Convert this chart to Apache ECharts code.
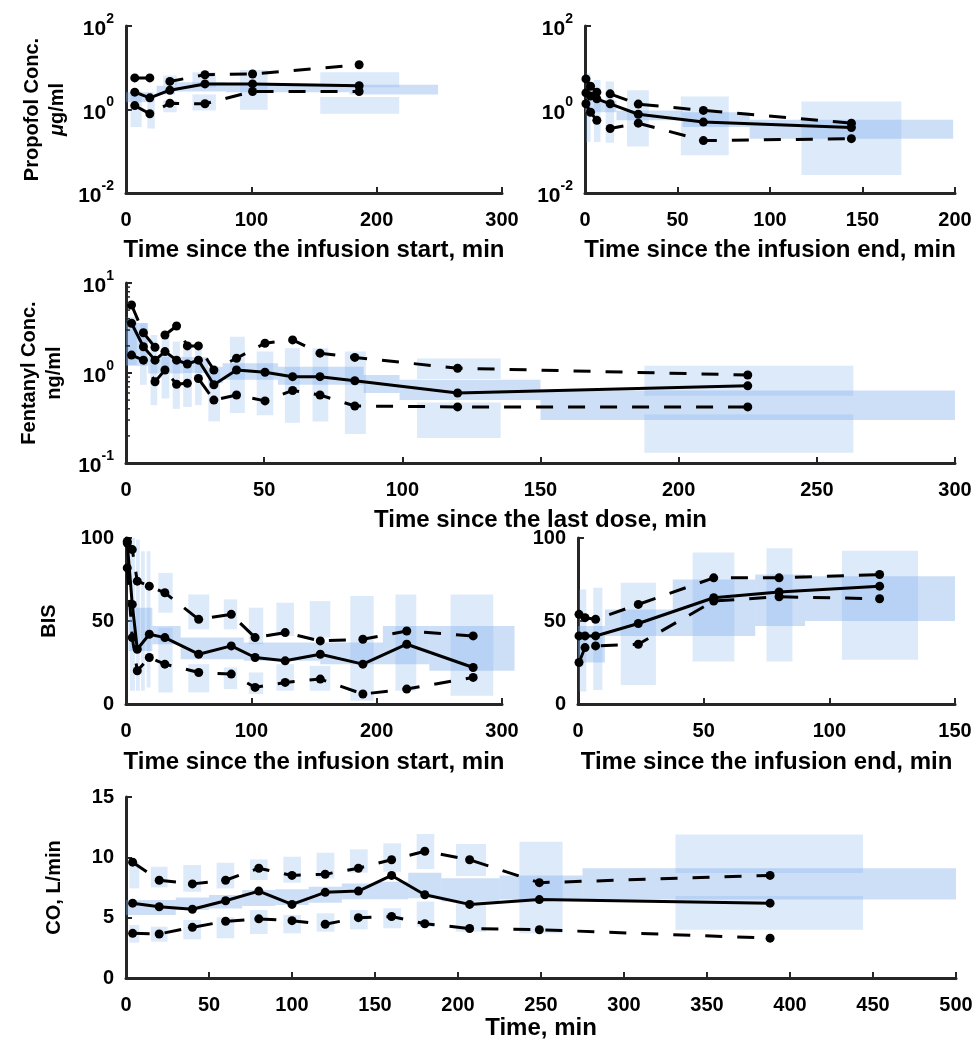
<!DOCTYPE html>
<html>
<head>
<meta charset="utf-8">
<script src="https://cdn.jsdelivr.net/npm/echarts@6/dist/echarts.min.js"></script>
<style>
html, body { margin: 0; background: #fff; }
#chart { width: 978px; height: 1048px; }
</style>
</head>
<body>
<div id="chart"></div>
<script>
// 观测值：中位数 / 5% / 95%，以及预测区间矩形 [x0, x1, y0, y1]

// 丙泊酚 - 输注开始
var p1Time = [7, 19, 35, 63, 101, 186];
var p1Upper = [5.7, 5.7, 4.7, 6.8, 7.1, 11.8];
var p1Median = [2.6, 1.9, 2.9, 4.1, 4.1, 3.7];
var p1Lower = [1.24, 0.79, 1.41, 1.37, 2.7, 2.7];
var p1PI = [[3.7, 12.5, 0.38, 2.8], [17, 23, 0.35, 2.2], [29.7, 40.4, 3.7, 6.5], [29.7, 40.4, 0.86, 1.64],
  [53, 71.7, 3.4, 7.8], [53, 71.7, 0.95, 2.3], [91, 113, 0.98, 8.8], [155, 218, 3.4, 7.8], [155, 218, 0.79, 2.0]];
var p1Band = [[0, 21.8, 1.5, 2.6], [24.4, 39, 2.3, 3.7], [39, 80, 2.7, 4.5], [80, 178.5, 2.6, 4.1], [178.5, 249, 2.3, 3.9]];

// 丙泊酚 - 输注结束
var p2Time = [0.5, 3, 6.4, 13.6, 28.8, 64, 144];
var p2Upper = [5.4, 3.6, 2.6, 2.37, 1.35, 0.95, 0.47];
var p2Median = [2.5, 2.1, 1.8, 1.37, 0.77, 0.5, 0.37];
var p2Lower = [1.37, 0.86, 0.55, 0.35, 0.47, 0.18, 0.2];
var p2PI = [[0.5, 3, 0.167, 7.3], [4.8, 8.4, 0.167, 5.1], [11.2, 15.7, 0.16, 4.7], [22.7, 34.5, 0.13, 2.9],
  [51.8, 77.7, 0.08, 2.04], [117, 171, 0.027, 1.55]];
var p2Band = [[0, 17, 0.86, 1.64], [17, 52.7, 0.55, 0.95], [52.7, 89, 0.38, 0.86], [89, 199, 0.2, 0.57]];

// 芬太尼
var p3Time = [2, 6.3, 10.5, 14.1, 18.3, 22.2, 26.2, 31.8, 40, 50.3, 60.3, 70.2, 82.8, 120, 225];
var p3Upper = [5.7, 2.8, 1.93, 2.64, 3.33, 2.0, 2.0, 1.08, 1.46, 2.14, 2.33, 1.66, 1.49, 1.13, 0.95];
var p3Median = [3.57, 1.96, 1.39, 1.73, 1.39, 1.26, 1.39, 0.74, 1.08, 1.02, 0.91, 0.91, 0.82, 0.6, 0.72];
var p3Lower = [1.58, 1.39, 0.8, 1.08, 0.75, 0.77, 0.87, 0.5, 0.57, 0.49, 0.64, 0.57, 0.43, 0.42, 0.42];
var p3PI = [[0.2, 3.9, 1.23, 4.2], [5.1, 7.5, 0.74, 3.57], [8.9, 11.3, 0.44, 2.64], [12.9, 15.7, 0.52, 2.53],
  [16.9, 19.5, 0.4, 2.23], [20.7, 23.8, 0.42, 2.23], [25, 27.4, 0.44, 2.14], [29.8, 34, 0.29, 1.08],
  [37.6, 43, 0.36, 2.53], [47.3, 53.3, 0.34, 1.73], [57.5, 62.9, 0.28, 1.88], [67.5, 73.2, 0.29, 1.88],
  [79.2, 86.8, 0.21, 1.73], [105.3, 135.6, 0.86, 1.45], [105.3, 135.6, 0.19, 0.47],
  [187.6, 263.2, 0.56, 1.2], [187.6, 263.2, 0.13, 0.345]];
var p3Band = [[0, 8, 1.2, 3.6], [8, 20.9, 0.99, 1.52], [20.9, 29.8, 1.0, 1.5], [29.8, 35, 0.77, 1.17],
  [35, 55, 0.84, 1.28], [55, 86, 0.74, 1.17], [86, 99, 0.6, 0.95], [99, 150, 0.5, 0.84], [150, 300, 0.3, 0.64]];
// 对数轴的次刻度
var p3MinorTicks = [0.2, 0.3, 0.4, 0.5, 0.6, 0.7, 0.8, 0.9, 2, 3, 4, 5, 6, 7, 8, 9];

// BIS - 输注开始
var p4Time = [1, 5, 9, 18.6, 31, 58, 84, 103, 127, 155, 189, 224, 277];
var p4Upper = [98, 93, 74, 71, 67, 51, 54, 40, 43, 38, 39, 44, 41];
var p4Median = [97, 60, 33, 42, 40, 30, 35, 28, 26, 30, 24, 36, 22];
var p4Lower = [82, 40, 20, 28, 24, 19, 18, 10, 13, 15, 6, 9, 16];
var p4PI = [[3.2, 7.2, 8, 100], [8, 11, 8, 99], [12, 15, 8, 92], [16.5, 19.5, 10, 92], [25.8, 37.2, 55, 79],
  [25.8, 37.2, 7, 46], [49.7, 66.4, 45, 66], [49.7, 66.4, 7, 24], [78, 88.7, 45, 63], [78, 88.7, 9, 22],
  [98, 109.5, 36, 58], [98, 109.5, 6, 19], [120, 134, 41, 61], [120, 134, 8, 24], [146.6, 163, 40, 62],
  [146.6, 163, 8, 23], [179, 197.6, 2, 65], [215, 231.6, 8, 66], [259, 293, 5, 66]];
var p4Band = [[2, 21, 32, 58], [21, 43.6, 36, 47], [43.6, 94, 27, 40], [94, 155, 26, 37], [155, 205, 24, 37],
  [205, 242, 24, 47], [242, 310, 20, 47]];

// BIS - 输注结束
var p5Time = [0.4, 2.8, 7, 24, 54, 80, 120];
var p5Upper = [54, 52, 51, 60, 76, 76, 78];
var p5Median = [41, 41, 41, 48.5, 64, 67.5, 71];
var p5Lower = [25, 34, 35, 36, 62, 64.6, 63.4];
var p5PI = [[0.4, 3.3, 7.5, 69], [6.1, 9.7, 8.5, 70], [17, 31, 11.5, 73], [45.6, 62.2, 25.6, 91.3],
  [75, 85.3, 25.6, 93.8], [105, 135.3, 26.7, 92.3]];
var p5Band = [[0, 10.7, 25, 47], [10.7, 37.7, 41, 57], [37.7, 70.5, 41, 75], [70.5, 90.3, 47, 78], [90.3, 150, 50, 77]];

// 心输出量
var p6Time = [4, 20, 40, 60, 80, 100, 120, 140, 160, 180, 207, 249, 388];
var p6Upper = [9.6, 8.1, 7.8, 8.1, 9.1, 8.5, 8.6, 9.1, 9.8, 10.5, 9.8, 7.9, 8.5];
var p6Median = [6.2, 5.9, 5.7, 6.4, 7.2, 6.1, 7.1, 7.2, 8.5, 6.9, 6.1, 6.5, 6.2];
var p6Lower = [3.7, 3.65, 4.2, 4.7, 4.9, 4.75, 4.45, 5.0, 5.1, 4.5, 4.1, 4.0, 3.3];
var p6PI = [[2, 8, 7.43, 9.64], [2, 8, 2.93, 4.39], [15, 25, 7.51, 9.22], [15, 25, 3.01, 4.25],
  [34.5, 45.2, 7.15, 9.36], [34.5, 45.2, 3.2, 4.81], [54.6, 65.2, 7.43, 9.55], [54.6, 65.2, 3.29, 5.03],
  [74.7, 85.3, 8.12, 9.83], [74.7, 85.3, 3.65, 5.63], [94.8, 105.4, 7.9, 10.05], [94.8, 105.4, 3.7, 5.22],
  [114.8, 125.5, 8.26, 10.38], [114.8, 125.5, 3.84, 5.36], [134.9, 145.6, 8.73, 10.66], [134.9, 145.6, 4.03, 5.63],
  [155, 165.7, 8.81, 11.16], [155, 165.7, 4.12, 5.78], [175.1, 185.7, 9.03, 11.93], [175.1, 185.7, 4.25, 6.33],
  [198.8, 216.9, 8.45, 11.1], [198.8, 216.9, 3.84, 6.33], [237, 263, 3.7, 11.3], [331, 444, 8.7, 11.9], [331, 444, 4.0, 6.8]];
var p6Band = [[0, 30, 5.22, 6.46], [30, 50, 5.63, 6.68], [50, 70, 5.77, 6.88], [70, 90, 5.97, 7.29],
  [90, 110, 6.05, 7.35], [110, 130, 6.24, 7.57], [130, 150, 6.52, 7.84], [150, 170, 6.52, 7.98],
  [170, 190, 6.6, 8.73], [190, 225, 6.33, 8.26], [225, 275, 6.5, 8.5], [275, 500, 6.5, 9.1]];

var font = '"Liberation Sans", Arial, sans-serif';
var axisColor = '#262626';
var piColor = 'rgba(120,170,235,0.25)';
var bandColor = 'rgba(120,170,235,0.38)';

var xNameStyle = { fontSize: 24, fontWeight: 'bold', color: '#000', fontFamily: font };
var yNameStyle = {
  fontSize: 20, fontWeight: 'bold', color: '#000', fontFamily: font, lineHeight: 25,
  rich: {
    n: { fontSize: 20, fontWeight: 'bold', color: '#000', fontFamily: font },
    i: { fontSize: 20, fontWeight: 'bold', fontStyle: 'italic', color: '#000', fontFamily: font }
  }
};
var labelStyle = { fontSize: 20, fontWeight: 'bold', color: '#000', fontFamily: font };

function logLabel(v) {
  var e = Math.round(Math.log(v) / Math.LN10);
  return '{b|10}{s|' + e + '}';
}

function xAxisOf(idx, max, interval, name, gap) {
  return {
    type: 'value', gridIndex: idx, min: 0, max: max, interval: interval,
    name: name, nameLocation: 'middle', nameGap: gap, nameTextStyle: xNameStyle,
    axisLine: { show: true, onZero: false, lineStyle: { color: axisColor, width: 3 } },
    axisTick: { show: true, inside: true, length: 6, lineStyle: { color: axisColor, width: 2 } },
    axisLabel: Object.assign({ margin: 17 }, labelStyle),
    splitLine: { show: false }
  };
}

function yAxisOf(idx, min, max, interval, isLog, name, gap) {
  var axis = {
    type: isLog ? 'log' : 'value', gridIndex: idx, min: min, max: max, interval: interval,
    name: name, nameLocation: 'middle', nameGap: gap, nameTextStyle: yNameStyle,
    axisLine: { show: true, onZero: false, lineStyle: { color: axisColor, width: 3 } },
    axisTick: { show: true, inside: true, length: 6, lineStyle: { color: axisColor, width: 2 } },
    axisLabel: Object.assign({ margin: 12 }, labelStyle),
    splitLine: { show: false }
  };
  if (isLog) {
    axis.logBase = 10;
    axis.axisLabel.formatter = logLabel;
    axis.axisLabel.rich = {
      b: { fontSize: 21, fontWeight: 'bold', color: '#000', fontFamily: font, lineHeight: 28, verticalAlign: 'bottom' },
      s: { fontSize: 14, fontWeight: 'bold', color: '#000', fontFamily: font, lineHeight: 28, verticalAlign: 'top' }
    };
  }
  return axis;
}

function rectSeries(idx, data, fill) {
  return {
    type: 'custom', xAxisIndex: idx, yAxisIndex: idx, data: data, clip: false, silent: true, z: 1,
    encode: { x: [0, 1], y: [2, 3] },
    renderItem: function (params, api) {
      var a = api.coord([api.value(0), api.value(2)]);
      var b = api.coord([api.value(1), api.value(3)]);
      return {
        type: 'rect',
        shape: { x: a[0], y: b[1], width: b[0] - a[0], height: a[1] - b[1] },
        style: { fill: fill }
      };
    }
  };
}

// 在 y 轴上画对数次刻度（朝内）
function minorTickSeries(idx, values) {
  return {
    type: 'custom', xAxisIndex: idx, yAxisIndex: idx, silent: true, z: 6,
    data: values.map(function (v) { return [0, v]; }),
    encode: { x: 0, y: 1 },
    renderItem: function (params, api) {
      var p = api.coord([api.value(0), api.value(1)]);
      return {
        type: 'line',
        shape: { x1: p[0], y1: p[1], x2: p[0] + 4, y2: p[1] },
        style: { stroke: axisColor, lineWidth: 1.5 }
      };
    }
  };
}

function lineSeries(idx, t, v, dashed) {
  return {
    type: 'line', xAxisIndex: idx, yAxisIndex: idx, z: 5, silent: true,
    data: t.map(function (x, i) { return [x, v[i]]; }),
    symbol: 'circle', symbolSize: 9,
    itemStyle: { color: '#000' },
    lineStyle: { color: '#000', width: 3, type: dashed ? [17, 15] : 'solid' }
  };
}

function panel(idx, pi, band, t, up, med, low) {
  return [
    rectSeries(idx, band, bandColor),
    rectSeries(idx, pi, piColor),
    lineSeries(idx, t, up, true),
    lineSeries(idx, t, low, true),
    lineSeries(idx, t, med, false)
  ];
}

var myChart = echarts.init(document.getElementById('chart'));

var option = {
  backgroundColor: '#fff',
  animation: false,
  grid: [
    { left: 126, top: 26, width: 376, height: 167 },
    { left: 585, top: 26, width: 370, height: 167 },
    { left: 126, top: 283, width: 829, height: 180 },
    { left: 126, top: 538, width: 376, height: 166 },
    { left: 578, top: 538, width: 377, height: 166 },
    { left: 126, top: 797, width: 830, height: 181 }
  ],
  xAxis: [
    xAxisOf(0, 300, 100, 'Time since the infusion start, min', 45),
    xAxisOf(1, 200, 50, 'Time since the infusion end, min', 45),
    xAxisOf(2, 300, 50, 'Time since the last dose, min', 45),
    xAxisOf(3, 300, 100, 'Time since the infusion start, min', 46),
    xAxisOf(4, 150, 50, 'Time since the infusion end, min', 46),
    xAxisOf(5, 500, 50, 'Time, min', 35)
  ],
  yAxis: [
    yAxisOf(0, 0.01, 100, 2, true, '{n|Propofol Conc.}\n{i|μ}{n|g/ml}', 56),
    yAxisOf(1, 0.01, 100, 2, true, '', 0),
    yAxisOf(2, 0.1, 10, 1, true, '{n|Fentanyl Conc.}\n{n|ng/ml}', 56),
    yAxisOf(3, 0, 100, 50, false, 'BIS', 64),
    yAxisOf(4, 0, 100, 50, false, '', 0),
    yAxisOf(5, 0, 15, 5, false, 'CO, L/min', 59)
  ],
  series: [].concat(
    panel(0, p1PI, p1Band, p1Time, p1Upper, p1Median, p1Lower),
    panel(1, p2PI, p2Band, p2Time, p2Upper, p2Median, p2Lower),
    panel(2, p3PI, p3Band, p3Time, p3Upper, p3Median, p3Lower),
    [minorTickSeries(2, p3MinorTicks)],
    panel(3, p4PI, p4Band, p4Time, p4Upper, p4Median, p4Lower),
    panel(4, p5PI, p5Band, p5Time, p5Upper, p5Median, p5Lower),
    panel(5, p6PI, p6Band, p6Time, p6Upper, p6Median, p6Lower)
  )
};

myChart.setOption(option);
</script>
</body>
</html>
